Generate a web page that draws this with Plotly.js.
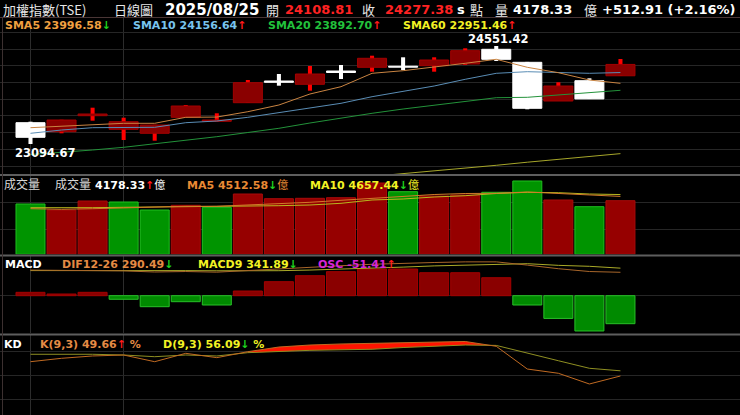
<!DOCTYPE html>
<html>
<head>
<meta charset="utf-8">
<script src="https://cdn.plot.ly/plotly-3.0.1.min.js"></script>
<style>
  html, body { margin: 0; padding: 0; background: #000; overflow: hidden; }
  #chart { width: 740px; height: 415px; }
</style>
</head>
<body>
<div id="chart"></div>
<script>
// ---- daily candles (TAIEX, 20 sessions up to 2025/08/25) ----
const tradeDate = '2025/08/25';
const openPx  = [23411.27, 23277.49, 23515.33, 23313.17, 23253.71, 23491.55, 23432.09, 23708.57, 24031.10, 23982.10,
                 24179.80, 24234.80, 24251.10, 24258.60, 24283.80, 24502.40, 24309.10, 23733.80, 24035.60, 24108.81];
const highPx  = [23426.14, 23455.00, 23634.25, 23485.60, 23380.00, 23674.40, 23551.00, 24046.00, 24135.20, 24254.10,
                 24269.00, 24407.20, 24383.40, 24383.40, 24517.20, 24551.42, 24315.00, 24011.80, 24071.30, 24358.20];
const lowPx   = [23094.67, 23253.71, 23441.00, 23154.10, 23143.70, 23491.55, 23426.14, 23708.57, 23961.30, 23886.90,
                 24060.90, 24169.40, 24194.70, 24169.40, 24269.00, 24328.40, 23610.40, 23733.80, 23764.47, 24108.81];
const closePx = [23194.25, 23451.41, 23540.60, 23426.14, 23377.10, 23659.52, 23451.41, 24005.87, 24011.80, 24135.20,
                 24157.50, 24368.60, 24236.30, 24343.30, 24481.50, 24353.70, 23625.30, 23956.80, 23764.47, 24277.38];

// moving averages of the close
const sma5  = [23336.9, 23362.2, 23387.5, 23402.3, 23402.3, 23491.5, 23495.0, 23574.8, 23674.4, 23837.9,
               23946.4, 24145.6, 24184.2, 24234.8, 24294.2, 24353.7, 24234.8, 24154.5, 24046.0, 23996.58];
const sma10 = [23253.7, 23302.7, 23336.9, 23342.9, 23342.9, 23411.3, 23436.5, 23491.5, 23559.9, 23625.3,
               23699.6, 23797.7, 23872.1, 23956.8, 24056.4, 24145.6, 24169.4, 24160.4, 24145.6, 24156.64];
const sma20 = [22938.5, 22968.3, 23005.4, 23045.6, 23094.7, 23146.7, 23203.1, 23265.6, 23328.0, 23406.8,
               23481.1, 23551.0, 23614.9, 23674.4, 23726.4, 23782.9, 23788.8, 23823.0, 23857.2, 23892.70];
const sma60 = [22190, 22225, 22262, 22300, 22338, 22375, 22412, 22450, 22490, 22530,
               22572, 22615, 22656, 22695, 22738, 22778, 22824, 22864, 22909, 22951.46];

// turnover (億) and its moving averages
const volume  = [3921, 3453, 4155, 4077, 3453, 3820, 3664, 4700, 4334, 4365,
                 4412, 5558, 4880, 4545, 4622, 4833, 5714, 4233, 3710, 4178.33];
const volMa5  = [3555, 3508, 3555, 3632, 3664, 3742, 3742, 3843, 3975, 4053,
                 4209, 4365, 4545, 4661, 4739, 4755, 4856, 4755, 4622, 4512.58];
const volMa10 = [3632, 3609, 3632, 3664, 3687, 3710, 3687, 3742, 3788, 3843,
                 3975, 4233, 4311, 4467, 4568, 4739, 4833, 4802, 4700, 4657.44];

// MACD(12,26,9)
const dif   = [318, 316, 318, 308, 294, 300, 292, 314, 336, 355,
               372, 390, 404, 412, 420, 420, 380, 335, 300, 290.49];
const macd9 = [311.8, 312.9, 311.8, 314.6, 314.2, 311.0, 309.1, 305.4, 310.3, 318.3,
               327.9, 341.0, 355.0, 369.8, 377.8, 387.0, 397.1, 376.7, 364.8, 341.89];
const osc   = [6.2, 3.1, 6.2, -6.6, -20.2, -11.0, -17.1, 8.6, 25.7, 36.7,
               44.1, 49.0, 49.0, 42.2, 42.2, 33.0, -17.1, -41.7, -64.8, -51.41];

// KD(9,3)
const kLine = [67.4, 71.6, 74.5, 75.7, 67.4, 77.8, 72.4, 79.8, 85.6, 88.1,
               89.4, 90.2, 91.0, 91.9, 92.5, 86.5, 58.3, 53.0, 39.7, 49.66];
const dLine = [76.6, 77.0, 76.6, 75.7, 73.6, 75.7, 74.5, 78.6, 80.5, 81.5,
               82.2, 82.8, 85.0, 86.5, 88.1, 87.6, 77.8, 68.6, 59.2, 56.09];
const kdHotFrom = 7, kdHotTo = 15;   // stretch where K runs above D in the overbought zone

// ---------------------------------------------------------------
const W = 740, H = 415;
const py = px => 1 - px / H;          // pixel row -> paper fraction
const idx = closePx.map((_, i) => i);
const n = idx.length;
const last = a => a[a.length - 1];
const prev = a => a[a.length - 2];
const f2 = v => v.toFixed(2);

const UP_ARROW = '<span style="color:#ff1a1a">↑</span>';
const DN_ARROW = '<span style="color:#1ed21e">↓</span>';
const trend = a => (last(a) >= prev(a) ? UP_ARROW : DN_ARROW);
const CJK = 'Noto Sans CJK TC';
const cjk = t => `<span style="font-family:'${CJK}';font-weight:normal">${t}</span>`;

const isUp = closePx.map((c, i) => c >= openPx[i]);
const bodyLow = closePx.map((c, i) => Math.min(c, openPx[i]));
const bodyLen = closePx.map((c, i) => Math.abs(c - openPx[i]));
const volFalls = closePx.map((c, i) => (i === 0 ? c < openPx[i] : c < closePx[i - 1]));

const SLOT = 0.934;
const traces = [];

// candle wicks
traces.push({
  type: 'bar', x: idx, base: lowPx, y: highPx.map((h, i) => h - lowPx[i]), width: 0.13,
  marker: { color: isUp.map(u => (u ? '#ff0000' : '#ffffff')), line: { width: 0 } },
  xaxis: 'x', yaxis: 'y'
});
// candle bodies
traces.push({
  type: 'bar', x: idx, base: bodyLow, y: bodyLen, width: SLOT,
  marker: {
    color: isUp.map(u => (u ? '#8a0000' : '#ffffff')),
    line: { color: isUp.map(u => (u ? '#a30000' : '#ffffff')), width: 1 }
  },
  xaxis: 'x', yaxis: 'y'
});
// price moving averages
[[sma60, '#a6a62a'], [sma20, '#23923a'], [sma10, '#5a8db5'], [sma5, '#c98442']].forEach(([s, c]) => {
  traces.push({ type: 'scatter', mode: 'lines', x: idx, y: s, line: { color: c, width: 1 }, xaxis: 'x', yaxis: 'y' });
});

// turnover bars
traces.push({
  type: 'bar', x: idx, y: volume, width: SLOT,
  marker: {
    color: volFalls.map(d => (d ? '#009400' : '#960000')),
    line: { color: volFalls.map(d => (d ? '#1fbf1f' : '#a80a0a')), width: 1 }
  },
  xaxis: 'x', yaxis: 'y2'
});
traces.push({ type: 'scatter', mode: 'lines', x: idx, y: volMa10, line: { color: '#b8b81e', width: 1 }, xaxis: 'x', yaxis: 'y2' });
traces.push({ type: 'scatter', mode: 'lines', x: idx, y: volMa5, line: { color: '#d27a2a', width: 1 }, xaxis: 'x', yaxis: 'y2' });

// MACD histogram
traces.push({
  type: 'bar', x: idx, y: osc, width: SLOT,
  marker: {
    color: osc.map(v => (v < 0 ? '#008a00' : '#8a0000')),
    line: { color: osc.map(v => (v < 0 ? '#28c028' : '#a30000')), width: 1 }
  },
  xaxis: 'x', yaxis: 'y3'
});
traces.push({ type: 'scatter', mode: 'lines', x: idx, y: macd9, line: { color: '#aaaa28', width: 1 }, xaxis: 'x', yaxis: 'y4' });
traces.push({ type: 'scatter', mode: 'lines', x: idx, y: dif, line: { color: '#a8662a', width: 1 }, xaxis: 'x', yaxis: 'y4' });

// KD: filled band while K is above D, then the two lines
const hot = idx.slice(kdHotFrom, kdHotTo + 1);
traces.push({ type: 'scatter', mode: 'lines', x: hot, y: hot.map(i => dLine[i]), line: { width: 0, color: '#ff2000' }, xaxis: 'x', yaxis: 'y5' });
traces.push({ type: 'scatter', mode: 'lines', x: hot, y: hot.map(i => kLine[i]), line: { width: 0, color: '#ff2000' },
  fill: 'tonexty', fillcolor: '#ff1400', xaxis: 'x', yaxis: 'y5' });
traces.push({ type: 'scatter', mode: 'lines', x: idx, y: dLine, line: { color: '#8f8f22', width: 1 }, xaxis: 'x', yaxis: 'y5' });
traces.push({ type: 'scatter', mode: 'lines', x: idx, y: kLine, line: { color: '#c06a22', width: 1 }, xaxis: 'x', yaxis: 'y5' });

// ---------------------------------------------------------------
const hiddenY = extra => Object.assign({
  anchor: 'x', showticklabels: false, ticks: '', zeroline: false, showline: false,
  showgrid: true, gridcolor: '#262626', gridwidth: 1, fixedrange: true
}, extra);

const BOLD = { family: 'DejaVu Sans', size: 11, weight: 'bold' };
const annotations = [];
const put = (text, xPx, yPx, font, extra) => annotations.push(Object.assign({
  xref: 'paper', yref: 'paper', x: xPx / W, y: py(yPx), xanchor: 'left', yanchor: 'middle',
  showarrow: false, text, borderpad: 0, font: Object.assign({ color: '#ffffff' }, BOLD, font)
}, extra));

// header line
const chg = last(closePx) - prev(closePx);
const chgPct = chg / prev(closePx) * 100;
const sign = v => (v >= 0 ? '+' : '');
const HDR_Y = 9.5;
const HDR_CJK = { family: CJK, size: 13, weight: 'normal', color: '#e6e6e6' };
put('加權指數(TSE)', 2, HDR_Y, HDR_CJK);
put('日線圖', 113, HDR_Y, HDR_CJK);
put(tradeDate, 164, HDR_Y, { size: 15 });
put('開', 265, HDR_Y, HDR_CJK);
put(f2(openPx[n - 1]), 284, HDR_Y, { size: 13, color: '#ff2222' });
put('收', 361, HDR_Y, HDR_CJK);
put(f2(last(closePx)), 384, HDR_Y, { size: 13, color: '#ff2222' });
put('s', 456, HDR_Y, { size: 13 });
put('點', 469, HDR_Y, HDR_CJK);
put('量', 494, HDR_Y, HDR_CJK);
put(f2(last(volume)), 512, HDR_Y, { size: 13 });
put('億', 583, HDR_Y, HDR_CJK);
put(`${sign(chg)}${f2(chg)} (${sign(chgPct)}${chgPct.toFixed(2)}%)`, 601, HDR_Y, { size: 13 });

// moving-average legend
const MA_Y = 25.2;
put(`SMA5 ${f2(last(sma5))}${trend(sma5)}`, 4, MA_Y, { color: '#f0a040' });
put(`SMA10 ${f2(last(sma10))}${trend(sma10)}`, 132, MA_Y, { color: '#78c4ee' });
put(`SMA20 ${f2(last(sma20))}${trend(sma20)}`, 267, MA_Y, { color: '#22c23c' });
put(`SMA60 ${f2(last(sma60))}${trend(sma60)}`, 402, MA_Y, { color: '#f2f224' });

// extreme price tags
const loI = lowPx.indexOf(Math.min(...lowPx));
const hiI = highPx.indexOf(Math.max(...highPx));
annotations.push({ xref: 'x', yref: 'y', x: loI, y: lowPx[loI], xanchor: 'center', yanchor: 'top', xshift: 15, yshift: -1,
  showarrow: false, borderpad: 0, text: f2(lowPx[loI]), font: Object.assign({}, BOLD, { size: 11.5, color: '#ffffff' }) });
annotations.push({ xref: 'x', yref: 'y', x: hiI, y: highPx[hiI], xanchor: 'center', yanchor: 'bottom', xshift: 2, yshift: -1,
  showarrow: false, borderpad: 0, text: f2(highPx[hiI]), font: Object.assign({}, BOLD, { size: 11.5, color: '#ffffff' }) });

// turnover legend
const SUB_CJK = { family: CJK, size: 12, weight: 'normal', color: '#d8d8d8' };
put('成交量', 3, 184, SUB_CJK);
put('成交量', 54, 184, SUB_CJK);
put(`${f2(last(volume))}${trend(volume)}${cjk('億')}`, 94, 184, {});
put(`MA5 ${f2(last(volMa5))}${trend(volMa5)}${cjk('億')}`, 186, 184, { color: '#ea8a34' });
put(`MA10 ${f2(last(volMa10))}${trend(volMa10)}${cjk('億')}`, 309, 184, { color: '#f2f224' });

// MACD legend
put('MACD', 4, 264, {});
put(`DIF12-26 ${f2(last(dif))}${trend(dif)}`, 61, 264, { color: '#e48a44' });
put(`MACD9 ${f2(last(macd9))}${trend(macd9)}`, 197, 264, { color: '#f2f224' });
put(`OSC ${f2(last(osc))}${trend(osc)}`, 317, 264, { color: '#d624d6' });

// KD legend
put('KD', 3, 344, {});
put(`K(9,3) ${f2(last(kLine))}${trend(kLine)} %`, 39, 344, { color: '#e48a44' });
put(`D(9,3) ${f2(last(dLine))}${trend(dLine)} %`, 162, 344, { color: '#f2f224' });

// panel frames
const hline = (yPx, color, w) => ({ type: 'line', xref: 'paper', yref: 'paper', x0: 0, x1: 1, y0: py(yPx), y1: py(yPx),
  line: { color, width: w }, layer: 'above' });
const shapes = [
  hline(17.5, '#4a3636', 1),
  hline(175, '#5e5e5e', 2),
  hline(255.5, '#5e5e5e', 2),
  hline(334.5, '#5e5e5e', 2),
  { type: 'line', xref: 'paper', yref: 'paper', x0: 2.5 / W, x1: 2.5 / W, y0: 0, y1: py(18), line: { color: '#3c3030', width: 1 } }
];

const layout = {
  width: W, height: H,
  margin: { l: 0, r: 0, t: 0, b: 0, pad: 0 },
  paper_bgcolor: '#000000', plot_bgcolor: '#000000',
  showlegend: false, hovermode: false, barmode: 'overlay',
  xaxis: { range: [-0.982, 22.85], domain: [0, 1], anchor: 'y', tickvals: [0, 3], showgrid: true, gridcolor: '#2c2c2c',
           showticklabels: false, ticks: '', zeroline: false, showline: false, fixedrange: true },
  yaxis:  hiddenY({ domain: [py(174), py(18)], range: [22648.7, 24967.6], tick0: 22767.6, dtick: 247.8 }),
  yaxis2: hiddenY({ domain: [py(254.3), py(176)], range: [0, 6103], tickvals: [1972, 4053] }),
  yaxis3: hiddenY({ domain: [py(333), py(256)], range: [-68.5, 72.9], tickvals: [0] }),
  yaxis4: hiddenY({ overlaying: 'y3', range: [-462.9, 492.7], showgrid: false }),
  yaxis5: hiddenY({ domain: [0, py(335.4)], range: [1.19, 100.05], tickvals: [20, 50, 80] }),
  annotations, shapes
};

Plotly.newPlot('chart', traces, layout, { staticPlot: true, displayModeBar: false });
</script>
</body>
</html>
